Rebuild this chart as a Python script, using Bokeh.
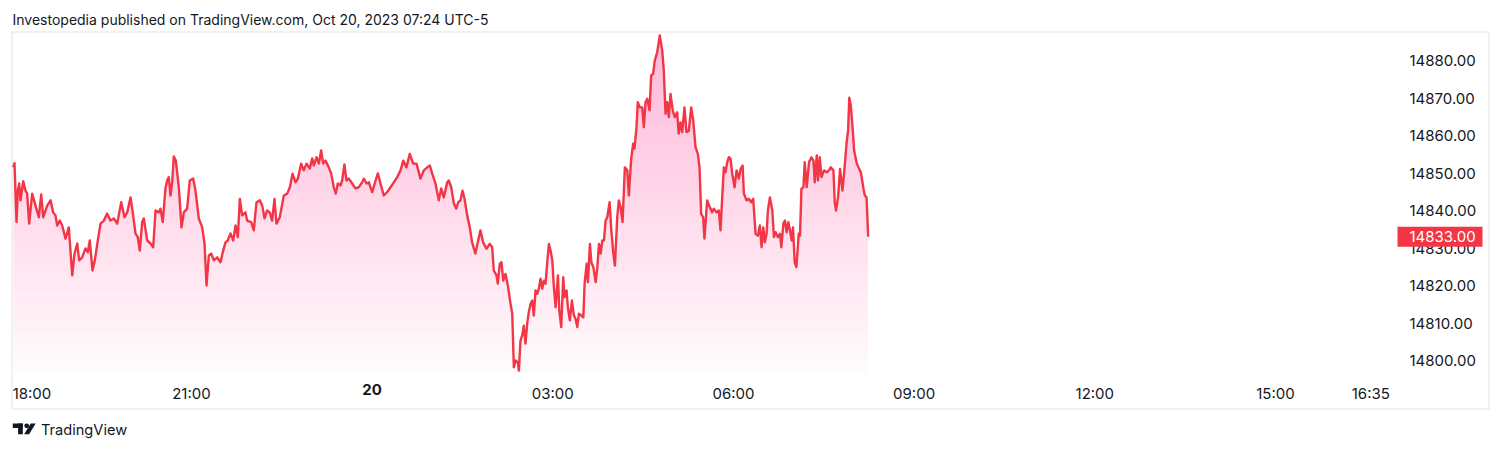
import numpy as np
from bokeh.plotting import figure
from bokeh.models import Range1d, LinearAxis, FixedTicker, PrintfTickFormatter, Label
from bokeh.embed import file_html
from bokeh.resources import INLINE

# ---------------- data ----------------
minutes_since_1800 = [
    2.4, 3.7, 5.7, 7.0, 8.4, 9.7, 12.4, 14.6, 16.3, 18.3, 21.3, 24.6, 27.9, 30.3, 32.3, 36.3,
    39.6, 42.2, 44.5, 46.2, 48.8, 51.2, 54.5, 57.8, 61.2, 63.5, 66.2, 68.1, 71.1, 74.4, 76.7,
    78.7, 81.4, 83.7, 86.7, 89.4, 92.7, 96.0, 99.3, 102.6, 106.0, 110.0, 113.3, 116.0, 119.3,
    121.9, 124.2, 126.5, 128.5, 130.9, 132.5, 135.9, 139.2, 141.9, 144.2, 147.5, 149.1, 151.4,
    154.1, 155.8, 157.4, 159.1, 160.8, 162.4, 164.4, 167.4, 170.1, 172.4, 175.7, 178.3, 181.7,
    184.0, 187.3, 190.7, 193.0, 195.0, 197.3, 199.7, 202.3, 205.6, 208.9, 211.6, 213.9, 216.2,
    218.9, 221.6, 223.9, 226.2, 228.2, 230.5, 233.8, 235.5, 239.5, 242.1, 244.8, 248.1, 250.5,
    252.8, 255.4, 258.0, 260.4, 262.7, 264.7, 268.0, 272.0, 275.4, 278.0, 280.7, 283.7, 286.0,
    289.3, 291.9, 294.6, 297.9, 300.3, 301.9, 304.6, 306.9, 309.2, 311.2, 313.5, 316.8, 319.2,
    321.8, 323.8, 325.8, 328.5, 330.1, 332.4, 334.4, 336.7, 340.1, 343.4, 346.7, 350.0, 351.7,
    354.4, 356.7, 360.1, 363.4, 365.7, 368.3, 371.6, 375.0, 378.3, 381.6, 385.0, 388.3, 391.0,
    394.2, 397.5, 400.9, 404.2, 408.2, 411.5, 414.9, 417.5, 419.8, 423.1, 426.4, 428.8, 431.4,
    434.8, 436.4, 438.8, 441.4, 443.8, 445.8, 448.0, 450.0, 452.0, 454.7, 457.3, 459.6, 462.9,
    464.6, 467.9, 470.6, 473.9, 477.2, 479.6, 481.2, 483.9, 485.2, 487.2, 488.9, 490.6, 492.9,
    495.2, 497.9, 499.6, 501.2, 502.9, 505.2, 506.2, 507.8, 509.5, 511.1, 512.8, 514.5, 516.1,
    517.8, 519.5, 521.1, 522.8, 524.5, 526.1, 527.8, 529.5, 531.1, 532.8, 534.5, 536.1, 537.8,
    539.5, 541.1, 542.8, 545.1, 546.5, 548.4, 550.4, 551.7, 553.7, 555.0, 557.0, 559.0, 561.0,
    562.7, 564.4, 566.0, 568.4, 570.4, 571.7, 573.7, 575.0, 577.0, 578.4, 580.4, 582.7, 584.4,
    586.0, 587.7, 589.3, 591.0, 592.6, 594.3, 596.6, 598.3, 600.3, 601.9, 604.2, 605.8, 607.5,
    609.5, 611.8, 614.2, 615.8, 618.1, 620.1, 621.4, 623.4, 624.7, 626.7, 629.1, 630.7, 632.4,
    634.1, 636.4, 638.0, 640.0, 641.6, 644.0, 646.6, 649.0, 650.6, 652.3, 654.0, 655.6, 657.3,
    659.5, 661.5, 663.9, 665.5, 667.2, 668.9, 671.2, 673.2, 675.5, 677.9, 679.9, 682.2, 684.5,
    686.2, 687.8, 689.8, 691.1, 693.8, 696.4, 698.8, 700.4, 703.1, 705.4, 707.1, 708.8, 710.4,
    712.1, 713.8, 715.4, 717.1, 718.8, 721.1, 723.1, 725.4, 727.1, 729.1, 730.4, 733.0, 735.3,
    737.7, 739.7, 742.0, 744.3, 746.3, 748.0, 749.7, 751.3, 753.0, 754.3, 756.3, 758.7, 760.3,
    762.0, 764.3, 766.3, 767.7, 769.7, 771.3, 773.0, 774.7, 776.3, 778.0, 779.3, 781.0, 782.7,
    783.7, 785.0, 786.3, 787.7, 789.7, 791.0, 793.0, 795.3, 797.7, 799.7, 801.0, 803.0, 804.3,
    806.0, 807.7, 810.3, 812.9, 815.2, 816.9, 819.6, 820.9, 822.2, 824.2, 826.2, 828.6, 830.9,
    832.6, 834.2, 835.4, 836.9, 838.9, 840.2, 842.9, 845.2, 846.9, 849.6, 850.9, 852.6, 854.2,
]
price = [
    14851.5, 14852.6, 14836.9, 14845.3, 14847.2, 14842.7, 14847.8, 14845.3, 14844.5, 14836.5,
    14844.5, 14841.3, 14838.2, 14844.3, 14838.2, 14841.3, 14842.7, 14839.5, 14838.7, 14836.0,
    14837.3, 14836.0, 14832.5, 14835.5, 14822.7, 14828.5, 14831.2, 14826.7, 14827.5, 14829.9,
    14828.9, 14832.0, 14824.0, 14826.7, 14832.0, 14836.5, 14837.3, 14839.2, 14837.3, 14837.9,
    14836.5, 14842.2, 14838.2, 14839.5, 14843.5, 14838.7, 14833.9, 14832.9, 14829.3, 14836.9,
    14837.9, 14832.0, 14831.2, 14830.2, 14840.0, 14839.5, 14840.5, 14836.9, 14845.9, 14848.0,
    14848.9, 14844.0, 14847.5, 14854.4, 14853.3, 14846.2, 14835.5, 14839.5, 14840.5, 14848.0,
    14848.5, 14845.3, 14837.9, 14835.5, 14831.2, 14820.0, 14828.0, 14828.5, 14826.7, 14827.5,
    14826.2, 14829.3, 14831.5, 14832.0, 14833.9, 14832.0, 14836.0, 14832.9, 14843.1, 14838.7,
    14839.5, 14837.3, 14836.9, 14834.7, 14842.2, 14842.7, 14841.3, 14837.9, 14840.0, 14839.5,
    14837.3, 14843.1, 14836.5, 14838.2, 14844.0, 14844.5, 14846.2, 14849.8, 14847.5, 14848.5,
    14852.5, 14850.7, 14852.5, 14851.2, 14853.9, 14852.0, 14854.2, 14852.5, 14856.0, 14852.5,
    14853.3, 14851.5, 14849.9, 14846.2, 14844.5, 14847.2, 14846.7, 14848.0, 14852.3, 14848.0,
    14848.5, 14847.2, 14845.9, 14846.2, 14847.5, 14848.5, 14847.2, 14847.5, 14844.9, 14848.0,
    14849.9, 14847.2, 14844.0, 14844.9, 14846.2, 14847.5, 14848.9, 14850.7, 14853.3, 14851.5,
    14855.1, 14852.5, 14852.5, 14848.5, 14850.7, 14851.5, 14852.0, 14849.9, 14847.2, 14842.7,
    14845.9, 14843.5, 14847.5, 14848.0, 14846.2, 14841.9, 14840.5, 14842.2, 14842.7, 14845.3,
    14843.2, 14838.7, 14835.5, 14831.5, 14828.5, 14830.7, 14834.7, 14831.5, 14829.8, 14831.1,
    14830.2, 14824.0, 14822.7, 14820.5, 14825.8, 14826.2, 14821.3, 14823.1, 14820.0, 14815.1,
    14812.5, 14798.2, 14800.0, 14799.5, 14797.3, 14805.3, 14806.7, 14809.3, 14804.5, 14809.8,
    14812.9, 14815.1, 14816.0, 14812.0, 14818.7, 14817.8, 14819.1, 14821.8, 14819.1, 14821.3,
    14820.5, 14826.2, 14831.1, 14829.3, 14826.7, 14819.5, 14814.2, 14822.7, 14813.3, 14808.9,
    14822.2, 14816.9, 14818.7, 14814.2, 14810.7, 14816.0, 14812.0, 14811.1, 14808.9, 14812.5,
    14812.0, 14811.5, 14820.5, 14825.8, 14820.9, 14831.1, 14826.2, 14824.9, 14820.9, 14824.9,
    14831.1, 14828.5, 14832.0, 14832.0, 14837.3, 14838.2, 14842.2, 14834.7, 14828.5, 14825.3,
    14838.2, 14842.7, 14840.9, 14836.9, 14851.5, 14850.7, 14844.0, 14853.8, 14857.8, 14856.5,
    14862.2, 14868.9, 14867.5, 14867.5, 14862.2, 14868.9, 14869.8, 14866.7, 14876.0, 14876.5,
    14880.0, 14882.2, 14886.7, 14882.7, 14877.3, 14865.8, 14868.9, 14864.9, 14871.1, 14866.7,
    14864.9, 14866.2, 14860.5, 14863.5, 14860.9, 14867.5, 14860.9, 14861.3, 14867.5, 14864.0,
    14856.9, 14855.1, 14851.5, 14839.1, 14838.2, 14832.5, 14842.7, 14840.9, 14839.5, 14840.5,
    14839.5, 14840.0, 14834.7, 14843.5, 14851.5, 14850.2, 14852.9, 14854.2, 14853.8, 14849.8,
    14846.2, 14850.7, 14848.5, 14851.1, 14852.0, 14844.5, 14842.7, 14843.1, 14842.2, 14843.1,
    14833.8, 14833.3, 14836.0, 14830.2, 14835.5, 14831.5, 14833.8, 14840.0, 14843.5, 14840.0,
    14832.9, 14834.2, 14832.9, 14833.8, 14830.2, 14836.5, 14837.3, 14834.2, 14836.9, 14834.7,
    14832.0, 14835.5, 14826.2, 14824.9, 14828.5, 14833.8, 14833.3, 14845.8, 14846.2, 14852.9,
    14846.2, 14852.9, 14854.2, 14853.3, 14847.5, 14854.7, 14848.0, 14854.2, 14848.9, 14850.7,
    14850.2, 14850.7, 14851.5, 14850.7, 14842.2, 14840.0, 14843.5, 14851.1, 14845.3, 14852.0,
    14857.8, 14861.3, 14870.1, 14868.0, 14861.3, 14856.0, 14852.5, 14851.1, 14850.2, 14845.8,
    14844.0, 14843.5, 14833.0,
]

price_ticks = [14800, 14810, 14820, 14830, 14840, 14850, 14860, 14870, 14880]
time_tick_minutes = [21.1, 180, 540, 720, 900, 1080, 1260, 1355]
time_tick_labels = ["18:00", "21:00", "03:00", "06:00", "09:00", "12:00", "15:00", "16:35"]
day_tick_minutes = [360]
day_tick_labels = ["20"]

header_text = "Investopedia published on TradingView.com, Oct 20, 2023 07:24 UTC-5"
brand_text = "TradingView"

# ---------------- layout / style ----------------
W, H = 1496, 444
CANVAS_ORIGIN = 0          # page position of the canvas' top-left corner
PX_PER_MIN = 1.0037
X_ZERO_PX = 10.3
PX_PER_PT = 3.75
Y_REF_PX, Y_REF_VAL = 60.0, 14880.0

RED = "#F23645"
INK = "#131722"
FONT = "Inter"
SCALE_FONT = "15px"


def fx(px):
    return (px - X_ZERO_PX) / PX_PER_MIN


def fy(py):
    return Y_REF_VAL - (py - Y_REF_PX) / PX_PER_PT


p = figure(
    width=W, height=H,
    x_range=Range1d(fx(CANVAS_ORIGIN), fx(CANVAS_ORIGIN + W)),
    y_range=Range1d(fy(CANVAS_ORIGIN + H), fy(CANVAS_ORIGIN)),
    x_axis_location=None, y_axis_location=None,
    toolbar_location=None, output_backend="svg",
    min_border=0, min_border_left=0, min_border_right=0,
    min_border_top=0, min_border_bottom=0,
    outline_line_color=None,
    background_fill_color="white", border_fill_color="white",
)
p.grid.visible = False

# outer frame of the chart
p.quad(left=fx(11.5), right=fx(1488.5), top=fy(31.5), bottom=fy(408.5),
       fill_color=None, line_color="#E0E3EB", line_width=1)

t = np.array(minutes_since_1800, dtype=float)
v = np.array(price, dtype=float)

# vertical gradient under the line, built from stacked translucent layers
floor_val = fy(372)
top_val = v.max()
n_layers = 34
base_alpha, top_alpha = 0.025, 0.22
step_alpha = 1 - ((1 - top_alpha) / (1 - base_alpha)) ** (1 / (n_layers - 1))
levels = np.linspace(floor_val, top_val, n_layers + 1)[:-1]
for k, lvl in enumerate(levels):
    p.varea(x=t, y1=np.full_like(v, lvl), y2=np.maximum(v, lvl),
            fill_color=RED, fill_alpha=base_alpha if k == 0 else step_alpha)

p.line(t, v, line_color=RED, line_width=2.4, line_join="round")

# price scale
yaxis = LinearAxis(
    fixed_location=fx(1395),
    ticker=FixedTicker(ticks=price_ticks),
    formatter=PrintfTickFormatter(format="%.2f"),
    axis_line_color=None, major_tick_line_color=None, minor_tick_line_color=None,
    major_tick_in=0, major_tick_out=0, minor_tick_in=0, minor_tick_out=0,
    major_label_standoff=14,
    major_label_text_font=FONT, major_label_text_font_size=SCALE_FONT,
    major_label_text_color=INK,
)
p.add_layout(yaxis, "right")


# time scale
def time_axis(ticks, labels, style):
    ax = LinearAxis(
        fixed_location=fy(372),
        ticker=FixedTicker(ticks=ticks),
        major_label_overrides={tk: lb for tk, lb in zip(ticks, labels)},
        axis_line_color=None, major_tick_line_color=None, minor_tick_line_color=None,
        major_tick_in=0, major_tick_out=0, minor_tick_in=0, minor_tick_out=0,
        major_label_standoff=11,
        major_label_text_font=FONT, major_label_text_font_size=SCALE_FONT,
        major_label_text_color=INK, major_label_text_font_style=style,
    )
    p.add_layout(ax, "below")


time_axis(time_tick_minutes, time_tick_labels, "normal")
time_axis(day_tick_minutes, day_tick_labels, "bold")

# last price tag
last = v[-1]
half_tag = 10 / PX_PER_PT
tag = p.quad(left=fx(1397), right=fx(1482), top=last + half_tag, bottom=last - half_tag,
             fill_color=RED, line_color=None)
tag.level = "overlay"
tag_label = Label(x=fx(1409), y=last, text=f"{last:.2f}", text_align="left",
                  text_baseline="middle", text_color="white", text_font=FONT,
                  text_font_size=SCALE_FONT, level="overlay")
p.add_layout(tag_label)

# header
p.add_layout(Label(x=fx(12), y=fy(18.5), text=header_text, text_align="left",
                   text_baseline="middle", text_color=INK, text_font=FONT,
                   text_font_size="14px"))

# footer brand: logo + name
p.quad(left=fx(12.3), right=fx(22.3), top=fy(423), bottom=fy(427.5),
       fill_color=INK, line_color=None)
p.quad(left=fx(17.6), right=fx(22.3), top=fy(423), bottom=fy(433.8),
       fill_color=INK, line_color=None)
p.scatter(x=[fx(26.2)], y=[fy(425.3)], size=4.8, marker="circle",
          fill_color=INK, line_color=None)
p.patch(x=[fx(23.6), fx(28.6), fx(35.2), fx(30.2)],
        y=[fy(433.8), fy(433.8), fy(423), fy(423)],
        fill_color=INK, line_color=None)
p.add_layout(Label(x=fx(40.5), y=fy(429.5), text=brand_text, text_align="left",
                   text_baseline="middle", text_color=INK, text_font=FONT,
                   text_font_size="14.6px"))

open("out.html", "w").write(file_html(p, INLINE))
